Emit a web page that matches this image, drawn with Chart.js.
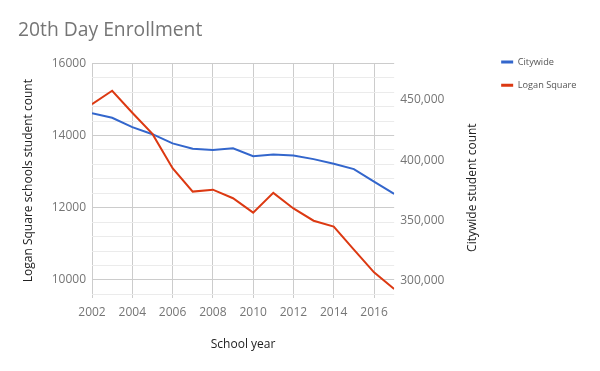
<!DOCTYPE html>
<html><head><meta charset="utf-8">
<script src="https://cdn.jsdelivr.net/npm/chart.js@4"></script>
<style>html,body{margin:0;padding:0;background:#fff}canvas{display:block}</style>
</head><body>
<canvas id="c" width="600" height="371"></canvas>
<script>
// ---- data ----
const years = [2002,2003,2004,2005,2006,2007,2008,2009,2010,2011,2012,2013,2014,2015,2016,2017];
const loganSquare = [14867,15240,14630,14044,13094,12446,12500,12263,11864,12410,11980,11640,11476,10840,10210,9750];
const citywide = [438900,435200,427500,421600,414000,409500,408500,409900,403300,404700,403900,400900,397100,392600,382200,372000];
const xTickYears = [2002,2004,2006,2008,2010,2012,2014,2016];
const leftTicks = [10000,12000,14000,16000];
const rightTicks = [300000,350000,400000,450000];
const seriesNames = ['Citywide','Logan Square'];
const titleText = '20th Day Enrollment';
const leftTitle = 'Logan Square schools student count';
const rightTitle = 'Citywide student count';
const xTitle = 'School year';

const FONT = '"Open Sans", "Noto Sans", sans-serif';
const BLUE = '#3366cc', RED = '#dc3912';

const toPts = (vals) => years.map((y, i) => ({x: y, y: vals[i]}));

const rightTitlePlugin = {
  id: 'rightTitle',
  afterDraw(chart) {
    const ctx = chart.ctx, a = chart.chartArea;
    ctx.save();
    ctx.font = '12px ' + FONT;
    ctx.fillStyle = '#222222';
    ctx.textAlign = 'center';
    ctx.textBaseline = 'middle';
    ctx.translate(473, (a.top + a.bottom) / 2 + 7);
    ctx.rotate(-Math.PI / 2);
    ctx.fillText(rightTitle, 0, 0);
    ctx.restore();
  }
};

new Chart(document.getElementById('c'), {
  type: 'line',
  data: {
    datasets: [
      {label: seriesNames[0], data: toPts(citywide), yAxisID: 'y1', borderColor: BLUE, backgroundColor: BLUE, borderWidth: 2, pointRadius: 0, tension: 0, order: 2},
      {label: seriesNames[1], data: toPts(loganSquare), yAxisID: 'y', borderColor: RED, backgroundColor: RED, borderWidth: 2, pointRadius: 0, tension: 0, order: 1}
    ]
  },
  options: {
    responsive: false,
    animation: false,
    devicePixelRatio: 1,
    layout: {padding: {left: 18, right: 19, top: 0, bottom: 0}},
    plugins: {
      title: {
        display: true, text: titleText, align: 'start', color: '#757575',
        font: {family: FONT, size: 19.3, weight: 'normal'},
        padding: {top: 18.5, bottom: 21.6}
      },
      legend: {
        display: true, position: 'right', align: 'start',
        title: {display: true, text: '', padding: {top: 29, bottom: 0}},
        labels: {
          boxWidth: 12, boxHeight: 3, padding: 14, color: '#555555',
          font: {family: FONT, size: 9.2},
          sort: (a, b) => a.datasetIndex - b.datasetIndex,
          generateLabels(chart) {
            const items = Chart.defaults.plugins.legend.labels.generateLabels(chart);
            items.forEach(it => { it.lineWidth = 0; });
            return items;
          }
        }
      },
      tooltip: {enabled: false}
    },
    scales: {
      x: {
        type: 'linear', position: 'bottom', min: years[0], max: years[years.length - 1],
        afterBuildTicks(s) { s.ticks = xTickYears.map(v => ({value: v})); },
        afterFit(s) { s.height = 73; },
        grid: {color: '#cccccc', drawTicks: false},
        border: {display: false},
        ticks: {autoSkip: false, maxRotation: 0, padding: 7, color: '#757575', font: {family: FONT, size: 12}, callback: v => String(v)},
        title: {display: true, text: xTitle, color: '#222222', font: {family: FONT, size: 12}, padding: {top: 0, bottom: 19}}
      },
      y: {
        type: 'linear', position: 'left', min: 9500, max: 16000,
        afterBuildTicks(s) { const t = []; for (let v = 9600; v <= 16000; v += 400) t.push({value: v}); s.ticks = t; },
        afterFit(s) { s.width = 74; },
        grid: {drawTicks: false, color: c => (c.tick && leftTicks.includes(c.tick.value)) ? '#cccccc' : '#ebebeb'},
        border: {display: false},
        ticks: {autoSkip: false, padding: 6, color: '#757575', font: {family: FONT, size: 12}, callback: v => leftTicks.includes(v) ? String(v) : ''},
        title: {display: true, text: leftTitle, color: '#222222', font: {family: FONT, size: 12}, padding: {top: 3, bottom: 0}}
      },
      y1: {
        type: 'linear', position: 'right', min: 285640, max: 480470,
        afterBuildTicks(s) { s.ticks = rightTicks.map(v => ({value: v})); },
        afterFit(s) { s.width = 93; },
        grid: {display: false, drawTicks: false},
        border: {display: false},
        ticks: {autoSkip: false, padding: 6, color: '#757575', font: {family: FONT, size: 12}, callback: v => v.toLocaleString('en-US')}
      }
    }
  },
  plugins: [rightTitlePlugin]
});
</script>
</body></html>
